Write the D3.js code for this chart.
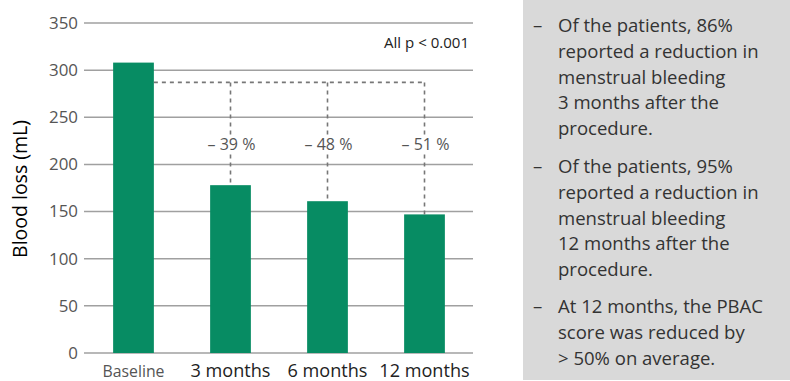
<!DOCTYPE html>
<html><head><meta charset="utf-8">
<script src="https://cdn.jsdelivr.net/npm/d3@7"></script>
<style>body{margin:0;background:#fff}svg{display:block}</style>
</head><body>
<svg id="c" width="790" height="381"></svg>
<script>
const categories = ["Baseline", "3 months", "6 months", "12 months"];
const bloodLoss = [308, 178, 161, 147];
const reductions = ["", "\u2013 39 %", "\u2013 48 %", "\u2013 51 %"];
const referenceLevel = 287;
const yTicks = [0, 50, 100, 150, 200, 250, 300, 350];
const yLabel = "Blood loss (mL)";
const pNote = "All p < 0.001";
const bullets = [
  ["Of the patients, 86%", "reported a reduction in", "menstrual bleeding", "3 months after the", "procedure."],
  ["Of the patients, 95%", "reported a reduction in", "menstrual bleeding", "12 months after the", "procedure."],
  ["At 12 months, the PBAC", "score was reduced by", "> 50% on average."]
];

const svg = d3.select("#c");
const W = 790, H = 381;
const plot = {left: 84, right: 473, top: 23, bottom: 353};
const y = d3.scaleLinear().domain([0, 350]).range([plot.bottom, plot.top]);
const x = d3.scaleBand().domain(categories).range([85, 473]).paddingInner(0.58).paddingOuter(0.29);
const green = "#078c63";

// size a font so a sample text gets a given width
function fitSize(family, sample, target, weight) {
  const t = svg.append("text").attr("font-family", family).attr("font-size", 20)
    .attr("font-weight", weight || 400).text(sample);
  const w = t.node().getComputedTextLength();
  t.remove();
  return 20 * target / w;
}
const bodyFont = "Open Sans";
const panelSize = fitSize(bodyFont, bullets[0][0], 175);
const tickSize = fitSize(bodyFont, "350", 29);
const pctSize = fitSize(bodyFont, reductions[1], 48);

// gridlines
svg.append("g").selectAll("line").data(yTicks).join("line")
  .attr("x1", plot.left).attr("x2", plot.right)
  .attr("y1", d => y(d)).attr("y2", d => y(d))
  .attr("stroke", "#a0a0a0").attr("stroke-width", 1.5);

// y axis labels
const yAxis = d3.axisLeft(y).tickValues(yTicks).tickSize(0).tickPadding(6);
const ya = svg.append("g").attr("transform", `translate(${plot.left},0)`).call(yAxis);
ya.select(".domain").remove();
ya.selectAll("text").attr("font-family", bodyFont).attr("font-size", tickSize).attr("fill", "#555");

// bars
svg.append("g").selectAll("rect").data(bloodLoss).join("rect")
  .attr("x", (d, i) => x(categories[i]))
  .attr("width", x.bandwidth())
  .attr("y", d => y(d))
  .attr("height", d => y(0) - y(d))
  .attr("fill", green);

// dashed reference lines
const dash = svg.append("g").attr("stroke", "#777").attr("stroke-width", 1.6).attr("stroke-dasharray", "4,4").attr("fill", "none");
const cx = c => x(c) + x.bandwidth() / 2;
dash.append("line")
  .attr("x1", x(categories[0]) + x.bandwidth()).attr("x2", cx(categories[categories.length - 1]))
  .attr("y1", y(referenceLevel)).attr("y2", y(referenceLevel));
categories.slice(1).forEach((c, i) => {
  dash.append("line")
    .attr("x1", cx(c)).attr("x2", cx(c))
    .attr("y1", y(referenceLevel)).attr("y2", y(bloodLoss[i + 1]));
});

// percent labels
const lblY = 144;
categories.forEach((c, i) => {
  if (!reductions[i]) return;
  const g = svg.append("g");
  const t = g.append("text").attr("x", cx(c) + 1).attr("y", lblY + 5.5)
    .attr("text-anchor", "middle").attr("font-family", bodyFont)
    .attr("font-size", pctSize).attr("fill", "#555").text(reductions[i]);
  const bb = t.node().getBBox();
  g.insert("rect", "text").attr("x", bb.x - 3).attr("y", lblY - 9).attr("width", bb.width + 6).attr("height", 18).attr("fill", "#fff");
});

// p note
svg.append("text").attr("x", 469).attr("y", 48).attr("text-anchor", "end")
  .attr("font-family", bodyFont).attr("font-size", fitSize(bodyFont, pNote, 85)).attr("fill", "#222").text(pNote);

// x labels
const xSize = fitSize(bodyFont, "6 months", 80);
const baseSize = fitSize(bodyFont, "Baseline", 62);
categories.forEach((c, i) => {
  const base = i === 0;
  svg.append("text").attr("x", cx(c)).attr("y", 376.5)
    .attr("text-anchor", "middle")
    .attr("font-family", bodyFont)
    .attr("font-size", base ? baseSize : xSize)
    .attr("fill", base ? "#555" : "#222")
    .text(c);
});

// y label
svg.append("text").attr("transform", "translate(27,189) rotate(-90)")
  .attr("text-anchor", "middle").attr("font-family", bodyFont)
  .attr("font-size", fitSize(bodyFont, yLabel, 138)).attr("fill", "#000").text(yLabel);

// right panel
svg.append("rect").attr("x", 523).attr("y", 0).attr("width", W - 523).attr("height", 380).attr("fill", "#d9d9d9");
const bulletStarts = [32, 173, 313];
const lineGap = 25.8;
bullets.forEach((lines, b) => {
  svg.append("text").attr("x", 533).attr("y", bulletStarts[b])
    .attr("font-family", bodyFont).attr("font-size", panelSize).attr("fill", "#333").text("\u2013");
  lines.forEach((ln, k) => {
    svg.append("text").attr("x", 558).attr("y", bulletStarts[b] + k * lineGap)
      .attr("font-family", bodyFont).attr("font-size", panelSize).attr("fill", "#333").text(ln);
  });
});
</script>
</body></html>
